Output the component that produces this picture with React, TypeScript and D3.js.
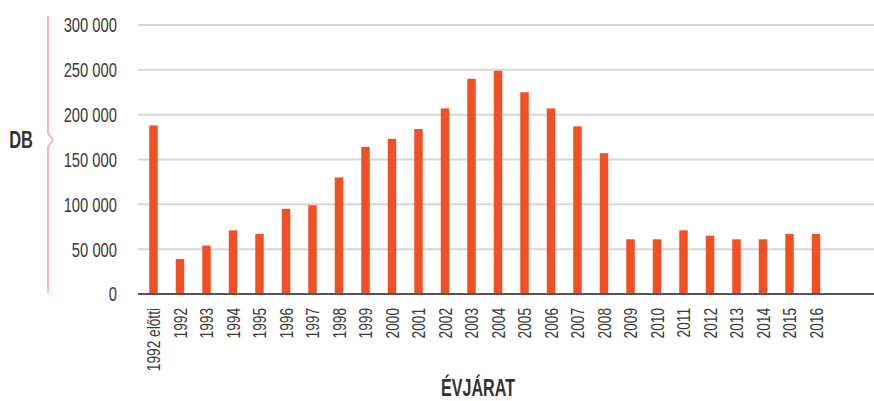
import React from "react";
import * as d3 from "d3";

const categories: string[] = [
  "1992 előtti", "1992", "1993", "1994", "1995", "1996", "1997", "1998", "1999",
  "2000", "2001", "2002", "2003", "2004", "2005", "2006", "2007", "2008", "2009",
  "2010", "2011", "2012", "2013", "2014", "2015", "2016",
];
const values: number[] = [
  188000, 39000, 54000, 71000, 67000, 95000, 99000, 130000, 164000,
  173000, 184000, 207000, 240000, 249000, 225000, 207000, 187000, 157000, 61000,
  61000, 71000, 65000, 61000, 61000, 67000, 67000,
];
const yTicks: number[] = [0, 50000, 100000, 150000, 200000, 250000, 300000];
const yTitle = "DB";
const xTitle = "ÉVJÁRAT";

const W = 874;
const H = 401;
const FONT = "'Liberation Sans', Arial, sans-serif";
const TEXT = "#3a3a3a";
const BAR = "#f05024";

export default function App() {
  const plotLeft = 138;
  const plotRight = 874;
  const y = d3.scaleLinear().domain([0, 300000]).range([294, 25]);
  const step = 26.5;
  const x = d3
    .scaleBand<string>()
    .domain(categories)
    .range([140.25, 140.25 + step * categories.length])
    .paddingInner(0.68)
    .paddingOuter(0.34);
  const fmt = (v: number) => d3.format(",")(v).replace(/,/g, " ");

  return (
    <svg
      width={W}
      height={H}
      style={{ position: "absolute", left: 0, top: 0, background: "#fff" }}
      fontFamily={FONT}
    >
      {yTicks.slice(1).map((t) => (
        <line key={"g" + t} x1={plotLeft} x2={plotRight} y1={y(t)} y2={y(t)} stroke="#d6d6d6" strokeWidth={2} />
      ))}
      {yTicks.map((t) => (
        <text
          key={"t" + t}
          transform={`translate(117,${y(t)}) scale(0.72,1)`}
          dy="0.36em"
          textAnchor="end"
          fontSize={20.5}
          fill={TEXT}
        >
          {fmt(t)}
        </text>
      ))}
      {categories.map((c, i) => (
        <rect
          key={c}
          x={x(c)!}
          y={y(values[i])}
          width={x.bandwidth()}
          height={y(0) - y(values[i])}
          fill={BAR}
        />
      ))}
      <line x1={plotLeft} x2={plotRight} y1={y(0)} y2={y(0)} stroke="#555" strokeWidth={2} />
      {categories.map((c) => {
        const cx = x(c)! + x.bandwidth() / 2;
        return (
          <text
            key={"l" + c}
            transform={`translate(${cx + 6.5},308) rotate(-90) scale(0.74,1)`}
            textAnchor="end"
            fontSize={18.5}
            fill={TEXT}
          >
            {c}
          </text>
        );
      })}
      <path d="M48,16 L48,133 L53,140 L48,147 L48,293" fill="none" stroke="#f5a898" strokeWidth={1.5} />
      <text
        transform={`translate(21,140) scale(0.7,1)`}
        dy="0.36em"
        textAnchor="middle"
        fontSize={23.5}
        fontWeight={700}
        fill="#333"
      >
        {yTitle}
      </text>
      <text
        transform={`translate(478,396) scale(0.7,1)`}
        textAnchor="middle"
        fontSize={23}
        fontWeight={700}
        fill="#333"
      >
        {xTitle}
      </text>
    </svg>
  );
}
